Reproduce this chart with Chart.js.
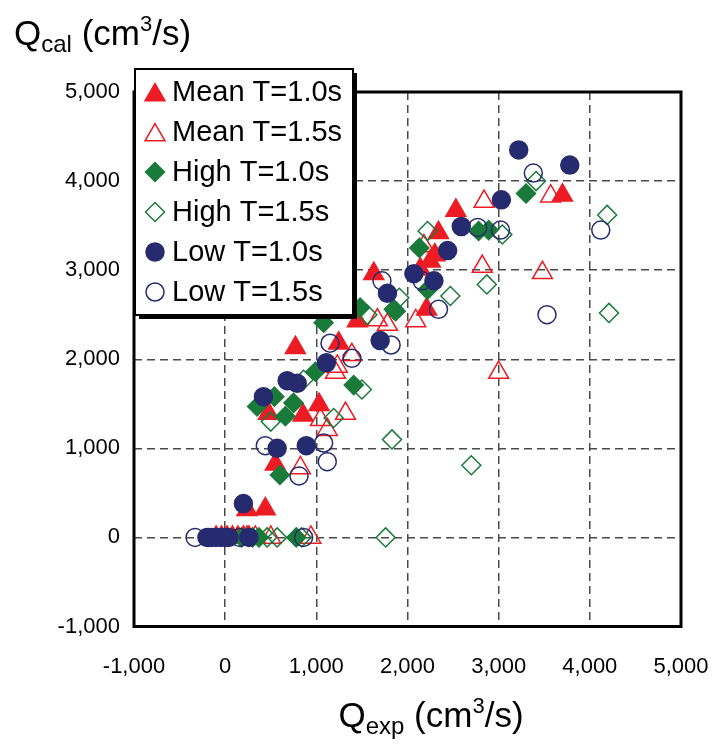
<!DOCTYPE html>
<html>
<head>
<meta charset="utf-8">
<script src="https://cdn.jsdelivr.net/npm/chart.js@4/dist/chart.umd.min.js"></script>
<style>
  html, body { margin: 0; padding: 0; background: #fff; }
  #wrap { position: relative; width: 713px; height: 745px; font-family: Arial, "Liberation Sans", sans-serif; }
  #chart { position: absolute; left: 0; top: 0; }
  .axis-title { position: absolute; font-size: 35px; line-height: 1; color: #000; white-space: nowrap; }
  .axis-title .sub { font-size: 24px; position: relative; top: 7px; }
  .axis-title .sup { font-size: 22px; position: relative; top: -14px; }
  #yTitle { left: 14px; top: 15px; }
  #xTitle { left: 431px; top: 697px; transform: translateX(-50%); }
</style>
</head>
<body>
<div id="wrap">
  <canvas id="chart" width="713" height="745"></canvas>
  <div class="axis-title" id="yTitle">Q<span class="sub">cal</span> (cm<span class="sup">3</span>/s)</div>
  <div class="axis-title" id="xTitle">Q<span class="sub">exp</span> (cm<span class="sup">3</span>/s)</div>
</div>
<script>
const seriesNames = ['Mean T=1.0s', 'Mean T=1.5s', 'High T=1.0s', 'High T=1.5s', 'Low T=1.0s', 'Low T=1.5s'];
const axisTicks = [-1000, 0, 1000, 2000, 3000, 4000, 5000];

const meanT10X = [3700, 2530, 2340, 2300, 2250, 2140, 1630, 2210, 1450, 1245, 770, 1030, 855, 475, 550, 240, 440, -100, -40, 20, 80, 140, 200, 260];
const meanT10Y = [3840, 3670, 3420, 3170, 3100, 3010, 2960, 2560, 2430, 2180, 2130, 1490, 1370, 1390, 820, 310, 320, 0, 0, 0, 0, 0, 0, 0];

const meanT15X = [2840, 3570, 2820, 3480, 2180, 2090, 1670, 1780, 3000, 1390, 1230, 1210, 1045, 1120, 1320, 825, 240, 330, 500, 940];
const meanT15Y = [3770, 3830, 3040, 2970, 3270, 2430, 2440, 2390, 1850, 2050, 1920, 1850, 1320, 1210, 1390, 780, 0, 0, 0, 0];

const highT10X = [3300, 2780, 2890, 2130, 2220, 1870, 1480, 1850, 1080, 990, 750, 540, 350, 660, 1410, 600, 180, 370, 780];
const highT10Y = [3860, 3440, 3450, 3250, 2780, 2540, 2580, 2560, 2410, 1860, 1510, 1580, 1470, 1360, 1710, 700, 0, 0, 0];

const highT15X = [3410, 4190, 3040, 2220, 2470, 2870, 4210, 1910, 1830, 2700, 1560, 860, 500, 1190, 1500, 300, 460, 570, 840, 1760];
const highT15Y = [4000, 3620, 3400, 3440, 2710, 2840, 2520, 2690, 1100, 810, 2500, 1770, 1300, 1340, 1660, 0, 0, 0, 0, 0];

const lowT10X = [3220, 3780, 3030, 2590, 2440, 2070, 2290, 1780, 1700, 1110, 680, 790, 420, 570, 890, 200, -200, -150, -100, -50, 0, 40, 260];
const lowT10Y = [4350, 4180, 3790, 3490, 3220, 2960, 2880, 2740, 2210, 1960, 1760, 1730, 1580, 1000, 1030, 380, 0, 0, 0, 0, 0, 0, 0];

const lowT15X = [3380, 4120, 3530, 2770, 3020, 2340, 2160, 1720, 1820, 1150, 1390, 440, 1080, 1120, 810, -330, -180, 160, 860];
const lowT15Y = [4090, 3450, 2500, 3480, 3450, 2560, 2880, 2880, 2160, 2180, 2010, 1030, 1060, 850, 690, 0, 0, 0, 0];

const RED = '#ED1C24';
const GREEN = '#1A7A3A';
const NAVY = '#262A6E';

function toPoints(xs, ys) {
  return xs.map((x, i) => ({ x, y: ys[i] }));
}

function makeSeries(idx, xs, ys, style, color, filled, radius) {
  return {
    label: seriesNames[idx],
    data: toPoints(xs, ys),
    pointStyle: style,
    pointRadius: radius,
    pointHoverRadius: radius,
    pointBorderWidth: 1.5,
    borderColor: color,
    backgroundColor: filled ? color : 'rgba(0,0,0,0)',
    showLine: false,
    order: 6 - idx,
  };
}

const datasets = [
  makeSeries(0, meanT10X, meanT10Y, 'triangle', RED, true, 11.5),
  makeSeries(1, meanT15X, meanT15Y, 'triangle', RED, false, 11.5),
  makeSeries(2, highT10X, highT10Y, 'rectRot', GREEN, true, 9.5),
  makeSeries(3, highT15X, highT15Y, 'rectRot', GREEN, false, 9.5),
  makeSeries(4, lowT10X, lowT10Y, 'circle', NAVY, true, 9),
  makeSeries(5, lowT15X, lowT15Y, 'circle', NAVY, false, 9),
];

// thick frame round the plot area, then the boxed legend on top of it
const framePlugin = {
  id: 'frame',
  afterDraw(chart) {
    const { ctx, chartArea: a } = chart;
    ctx.save();
    ctx.strokeStyle = '#000';
    ctx.lineWidth = 3;
    ctx.strokeRect(a.left, a.top, a.right - a.left, a.bottom - a.top);

    const bx = 135, by = 69, bw = 218, bh = 246;
    ctx.fillStyle = '#000';
    ctx.fillRect(bx + 4, by + 4, bw, bh);
    ctx.fillStyle = '#fff';
    ctx.fillRect(bx, by, bw, bh);
    ctx.lineWidth = 2;
    ctx.strokeRect(bx, by, bw, bh);

    ctx.font = '29px Arial, "Liberation Sans", sans-serif';
    ctx.textBaseline = 'middle';
    chart.data.datasets.forEach((ds, i) => {
      const cy = by + 23 + i * 40;
      ctx.fillStyle = ds.backgroundColor;
      ctx.strokeStyle = ds.borderColor;
      ctx.lineWidth = ds.pointBorderWidth;
      const dy = ds.pointStyle === 'triangle' ? 3 : 0;
      Chart.helpers.drawPoint(ctx, {
        pointStyle: ds.pointStyle,
        radius: ds.pointRadius,
        rotation: 0,
        borderWidth: ds.pointBorderWidth,
      }, 155, cy + dy);
      ctx.fillStyle = '#000';
      ctx.fillText(ds.label, 172, cy + 1);
    });
    ctx.restore();
  },
};

const tickFont = { family: 'Arial, "Liberation Sans", sans-serif', size: 22 };
const gridStyle = {
  color: '#4a4a4a',
  lineWidth: 1.5,
  drawTicks: false,
  tickLength: 0,
};

new Chart(document.getElementById('chart'), {
  type: 'scatter',
  data: { datasets },
  options: {
    responsive: false,
    animation: false,
    layout: { padding: { top: 92, right: 32, left: 0, bottom: 0 } },
    plugins: {
      legend: { display: false },
      tooltip: { enabled: false },
    },
    scales: {
      x: {
        type: 'linear',
        min: axisTicks[0],
        max: axisTicks[axisTicks.length - 1],
        afterFit(scale) {
          scale.height = 118.5;
          scale.paddingLeft = 0;
          scale.paddingRight = 0;
        },
        afterBuildTicks(scale) { scale.ticks = axisTicks.map((v) => ({ value: v })); },
        ticks: {
          font: tickFont,
          color: '#000',
          padding: 27,
          maxRotation: 0,
          callback: (v) => v.toLocaleString('en-US'),
        },
        grid: gridStyle,
        border: { display: false, dash: [8, 5] },
      },
      y: {
        type: 'linear',
        min: axisTicks[0],
        max: axisTicks[axisTicks.length - 1],
        afterFit(scale) {
          scale.width = 134;
          scale.paddingTop = 0;
          scale.paddingBottom = 0;
        },
        afterBuildTicks(scale) { scale.ticks = axisTicks.map((v) => ({ value: v })); },
        ticks: {
          font: tickFont,
          color: '#000',
          padding: 14,
          callback: (v) => v.toLocaleString('en-US'),
        },
        grid: gridStyle,
        border: { display: false, dash: [8, 5] },
      },
    },
  },
  plugins: [framePlugin],
});
</script>
</body>
</html>
